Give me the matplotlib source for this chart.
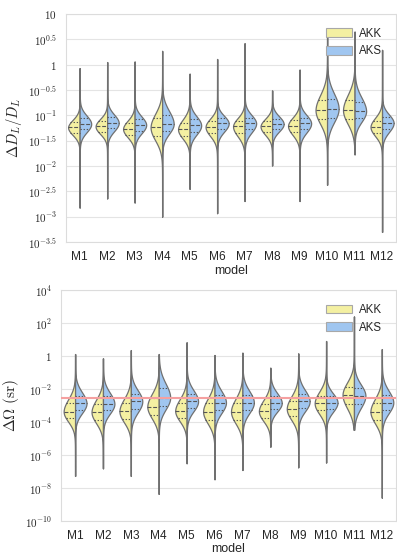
import numpy as np
import matplotlib
matplotlib.use('Agg')
import matplotlib.pyplot as plt
import seaborn as sns
from matplotlib.patches import Patch

# ---------------- data (log10 values) ----------------
models = ['M1', 'M2', 'M3', 'M4', 'M5', 'M6', 'M7', 'M8', 'M9', 'M10', 'M11', 'M12']
hue_labels = ['AKK', 'AKS']

# Panel 1: log10(Delta D_L / D_L)
dl_akk_q1  = [-1.34, -1.32, -1.38, -1.41, -1.40, -1.35, -1.35, -1.33, -1.33, -1.08, -1.08, -1.35]
dl_akk_med = [-1.24, -1.22, -1.27, -1.24, -1.28, -1.23, -1.22, -1.22, -1.21, -0.90, -0.90, -1.23]
dl_akk_q3  = [-1.14, -1.12, -1.16, -1.06, -1.15, -1.12, -1.11, -1.12, -1.10, -0.70, -0.70, -1.11]
dl_aks_q1  = [-1.28, -1.26, -1.30, -1.30, -1.32, -1.27, -1.28, -1.27, -1.28, -1.05, -1.06, -1.27]
dl_aks_med = [-1.17, -1.15, -1.19, -1.17, -1.20, -1.16, -1.16, -1.17, -1.16, -0.87, -0.92, -1.15]
dl_aks_q3  = [-1.06, -1.04, -1.08, -1.00, -1.08, -1.06, -1.05, -1.07, -1.05, -0.67, -0.74, -1.04]
dl_min     = [-2.82, -2.64, -2.72, -3.00, -2.45, -2.93, -2.69, -1.99, -2.69, -2.37, -1.77, -3.30]
dl_max     = [-0.07, 0.05, 0.06, 0.27, -0.18, 0.11, 0.42, -0.51, -0.10, 0.59, 0.65, 0.29]
dl_ticks = [-3.5, -3.0, -2.5, -2.0, -1.5, -1.0, -0.5, 0.0, 0.5, 1.0]
dl_ticklabels = [r'$10^{-3.5}$', r'$10^{-3}$', r'$10^{-2.5}$', r'$10^{-2}$', r'$10^{-1.5}$',
                 r'$10^{-1}$', r'$10^{-0.5}$', r'$1$', r'$10^{0.5}$', r'$10$']

# Panel 2: log10(Delta Omega / sr)
om_akk_q1  = [-3.78, -3.85, -3.80, -3.55, -3.75, -3.85, -3.85, -3.75, -3.65, -3.30, -2.90, -3.85]
om_akk_med = [-3.37, -3.40, -3.35, -3.07, -3.33, -3.37, -3.37, -3.35, -3.20, -2.87, -2.35, -3.37]
om_akk_q3  = [-2.87, -2.90, -2.85, -2.55, -2.85, -2.85, -2.85, -2.90, -2.70, -2.40, -1.85, -2.85]
om_aks_q1  = [-3.27, -3.30, -3.20, -3.00, -3.15, -3.25, -3.25, -3.20, -3.15, -3.20, -2.90, -3.25]
om_aks_med = [-2.87, -2.90, -2.75, -2.52, -2.75, -2.82, -2.82, -2.85, -2.75, -2.82, -2.40, -2.82]
om_aks_q3  = [-2.42, -2.45, -2.30, -1.95, -2.30, -2.35, -2.35, -2.45, -2.30, -2.45, -1.95, -2.35]
om_min     = [-7.27, -6.81, -7.27, -8.36, -6.50, -7.47, -6.91, -5.50, -6.75, -6.46, -4.48, -8.59]
om_max     = [0.12, -0.14, 0.36, 0.12, 0.83, 0.06, 0.20, -0.71, 0.16, 0.91, 2.40, 0.42]
om_ref_line = -2.52
om_ticks = [-10, -8, -6, -4, -2, 0, 2, 4]
om_ticklabels = [r'$10^{-10}$', r'$10^{-8}$', r'$10^{-6}$', r'$10^{-4}$', r'$10^{-2}$',
                 r'$1$', r'$10^{2}$', r'$10^{4}$']

# ---------------- style ----------------
sns.set_style('whitegrid', {'grid.color': '#e4e4e4', 'axes.edgecolor': '#dcdcdc'})
plt.rcParams['font.family'] = ['Liberation Sans', 'DejaVu Sans']
plt.rcParams['mathtext.fontset'] = 'cm'

C_AKK = '#f4f0a2'
C_AKS = '#a0c6f0'
GREY = '#707070'


def draw_half(ax, pos, q1, med, q3, lo, hi, side, color, width, tail_scale):
    y = np.linspace(lo, hi, 800)
    s_lo = (med - q1) / 0.6745
    s_hi = (q3 - med) / 0.6745
    z = np.where(y < med, (y - med) / s_lo, (y - med) / s_hi)
    g = np.exp(-0.5 * z ** 2)
    t = 0.025 * np.exp(-np.abs(y - med) / tail_scale)
    d = g + t
    d = d / d.max() * width
    d[0] = 0
    d[-1] = 0
    if side == 'left':
        ax.fill_betweenx(y, pos - d, pos, facecolor=color, edgecolor=GREY, lw=0.9, zorder=2)
    else:
        ax.fill_betweenx(y, pos, pos + d, facecolor=color, edgecolor=GREY, lw=0.9, zorder=2)
    for val, ls in [(q1, (0, (1.2, 1.6))), (med, (0, (3.5, 1.6))), (q3, (0, (1.2, 1.6)))]:
        w = np.interp(val, y, d)
        xs = [pos - w, pos] if side == 'left' else [pos, pos + w]
        ax.plot(xs, [val, val], color='#555555', lw=0.8, ls=ls, zorder=3)


def panel(ax, akk, aks, mins, maxs, width, tail_scale):
    for i in range(len(models)):
        draw_half(ax, i, akk[0][i], akk[1][i], akk[2][i], mins[i], maxs[i], 'left', C_AKK, width, tail_scale)
        draw_half(ax, i, aks[0][i], aks[1][i], aks[2][i], mins[i], maxs[i], 'right', C_AKS, width, tail_scale)
    ax.set_xlim(-0.5, len(models) - 0.5)
    ax.set_xticks(range(len(models)))
    ax.set_xticklabels(models, fontsize=8.6)
    ax.xaxis.grid(False)
    ax.tick_params(axis='x', pad=3)
    ax.tick_params(axis='y', pad=3)
    ax.set_xlabel('model', fontsize=9, labelpad=1)
    handles = [Patch(facecolor=C_AKK, edgecolor='#a8a8a8', lw=0.8, label=hue_labels[0]),
               Patch(facecolor=C_AKS, edgecolor='#a8a8a8', lw=0.8, label=hue_labels[1])]
    ax.legend(handles=handles, loc='upper right', frameon=False, fontsize=8.3,
              handlelength=2.3, handleheight=0.75, labelspacing=0.5,
              bbox_to_anchor=(0.99, 0.985), handletextpad=0.6)


fig = plt.figure(figsize=(3.97, 5.54), dpi=100)
ax1 = fig.add_axes([0.166, 0.563, 0.831, 0.412])
ax2 = fig.add_axes([0.154, 0.0596, 0.843, 0.4169])

panel(ax1, (dl_akk_q1, dl_akk_med, dl_akk_q3), (dl_aks_q1, dl_aks_med, dl_aks_q3),
      dl_min, dl_max, 0.42, 0.6)
ax1.set_ylim(-3.5, 1.0)
ax1.set_yticks(dl_ticks)
ax1.set_yticklabels(dl_ticklabels, fontsize=8)
ax1.set_ylabel(r'$\Delta D_L/D_L$', fontsize=10.5, labelpad=3)

panel(ax2, (om_akk_q1, om_akk_med, om_akk_q3), (om_aks_q1, om_aks_med, om_aks_q3),
      om_min, om_max, 0.41, 1.8)
ax2.axhline(om_ref_line, color='#f5a0a0', lw=1.5, zorder=4)
ax2.set_ylim(-10, 4)
ax2.set_yticks(om_ticks)
ax2.set_yticklabels(om_ticklabels, fontsize=8)
ax2.set_ylabel(r'$\Delta\Omega\ \mathrm{(sr)}$', fontsize=11, labelpad=3)

fig.savefig('out.png', dpi=100)
